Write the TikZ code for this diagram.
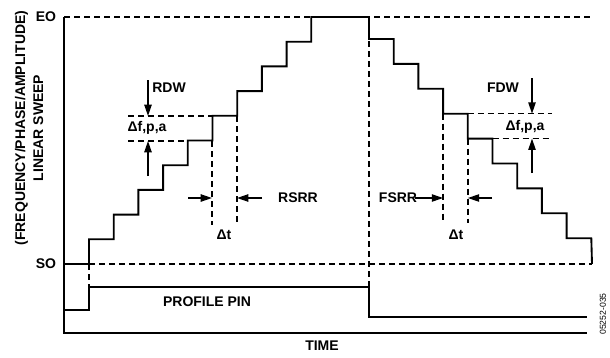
\documentclass[tikz,border=0pt]{standalone}
\usepackage{fontspec}
\setmainfont{Liberation Sans}
\usetikzlibrary{arrows.meta}

\begin{document}
\begin{tikzpicture}[x=0.75pt, y=-0.75pt, line join=miter,
    font=\fontsize{10.5}{12}\selectfont\bfseries,
    sig/.style={line width=1.4pt},
    guide/.style={line width=1.1pt, dash pattern=on 4.5pt off 3pt},
    arr/.style={line width=1.1pt, -{Triangle[length=8.5pt, width=5.5pt]}},
    lbl/.style={inner sep=1pt}]
    \useasboundingbox (0,0) rectangle (610,357);

    % Reference levels and axes
    \coordinate (EO) at (64,17);
    \coordinate (EOend) at (590,17);
    \coordinate (SO) at (64,264);
    \coordinate (SOstart) at (89,264);
    \coordinate (SOend) at (592,264);
    \coordinate (O) at (64,333);
    \coordinate (Xend) at (587,333);

    \draw[guide] (EO) -- (EOend);
    \draw[guide] (SOstart) -- (SOend);
    \draw[sig] (EO) -- (O) -- (Xend);

    % Rising and falling staircase
    \draw[sig] (SO) -- (SOstart)
        \foreach \i in {1,...,10} {
            -- (89+\i*24.7-24.7, 264-\i*24.7) -- (89+\i*24.7, 264-\i*24.7)}
        -- (369,17)
        \foreach \i in {1,...,9} {
            -- (369+\i*24.7-24.7, 14.1+\i*24.9) -- (369+\i*24.7, 14.1+\i*24.9)}
        -- (SOend);

    % Profile pin
    \coordinate (pinlo) at (64,310);
    \coordinate (pinup) at (89,287);
    \coordinate (pinfall) at (369,287);
    \coordinate (pinend) at (587,317);
    \draw[sig] (pinlo) -- (89,310) -- (pinup) -- (pinfall) -- (369,317) -- (pinend);

    % Dashed guides
    \draw[guide] (SOstart) -- (pinup);
    \draw[guide] (369,41) -- (pinfall);
    \draw[guide] (212,141) -- (212,225);
    \draw[guide] (237,116) -- (237,225);
    \draw[guide] (443.1,113.7) -- (443.1,223);
    \draw[guide] (467.8,138.6) -- (467.8,223);
    \draw[guide] (128,116) -- (212,116);
    \draw[guide] (128,141) -- (188,141);
    \draw[guide] (467.8,113.7) -- (552,113.7);
    \draw[guide] (492.5,138.6) -- (552,138.6);

    % Dwell arrows
    \coordinate (rdwtop) at (148,80);
    \coordinate (rdwhi) at (148,116);
    \coordinate (rdwbot) at (148,176);
    \coordinate (rdwlo) at (148,141);
    \draw[arr] (rdwtop) -- (rdwhi);
    \draw[arr] (rdwbot) -- (rdwlo);
    \coordinate (fdwtop) at (532,78);
    \coordinate (fdwhi) at (532,113.7);
    \coordinate (fdwbot) at (532,173);
    \coordinate (fdwlo) at (532,138.6);
    \draw[arr] (fdwtop) -- (fdwhi);
    \draw[arr] (fdwbot) -- (fdwlo);

    % Step-rate arrows
    \coordinate (rsl) at (188,198);
    \coordinate (rsla) at (212,198);
    \coordinate (rsr) at (262,198);
    \coordinate (rsra) at (237,198);
    \draw[arr] (rsl) -- (rsla);
    \draw[arr] (rsr) -- (rsra);
    \coordinate (fsl) at (415,198);
    \coordinate (fsla) at (443.1,198);
    \coordinate (fsr) at (492,198);
    \coordinate (fsra) at (467.8,198);
    \draw[arr] (fsl) -- (fsla);
    \draw[arr] (fsr) -- (fsra);

    % Labels
    \node[lbl] (eolbl) at (46,17) {EO};
    \node[lbl] (solbl) at (46,264) {SO};
    \node[lbl, rotate=90, align=center, font=\fontsize{10.5}{13.5}\selectfont\bfseries] (ylbl) at (29,128)
        {(FREQUENCY/PHASE/AMPLITUDE)\\LINEAR SWEEP};
    \node[lbl] (rdw) at (169,88) {RDW};
    \node[lbl] (rstep) at (147,128) {Δf,p,a};
    \node[lbl] (rsrr) at (298,198) {RSRR};
    \node[lbl] (rdt) at (224,235) {Δt};
    \node[lbl] (fdw) at (503,88) {FDW};
    \node[lbl] (fstep) at (525,127) {Δf,p,a};
    \node[lbl] (fsrr) at (398,198) {FSRR};
    \node[lbl] (fdt) at (456,235) {Δt};
    \node[lbl] (pin) at (207,302) {PROFILE PIN};
    \node[lbl] (time) at (322,346) {TIME};
    \node[lbl, rotate=90, font=\fontsize{6.5}{7}\selectfont] (code) at (603,314) {05252-035};
\end{tikzpicture}
\end{document}
